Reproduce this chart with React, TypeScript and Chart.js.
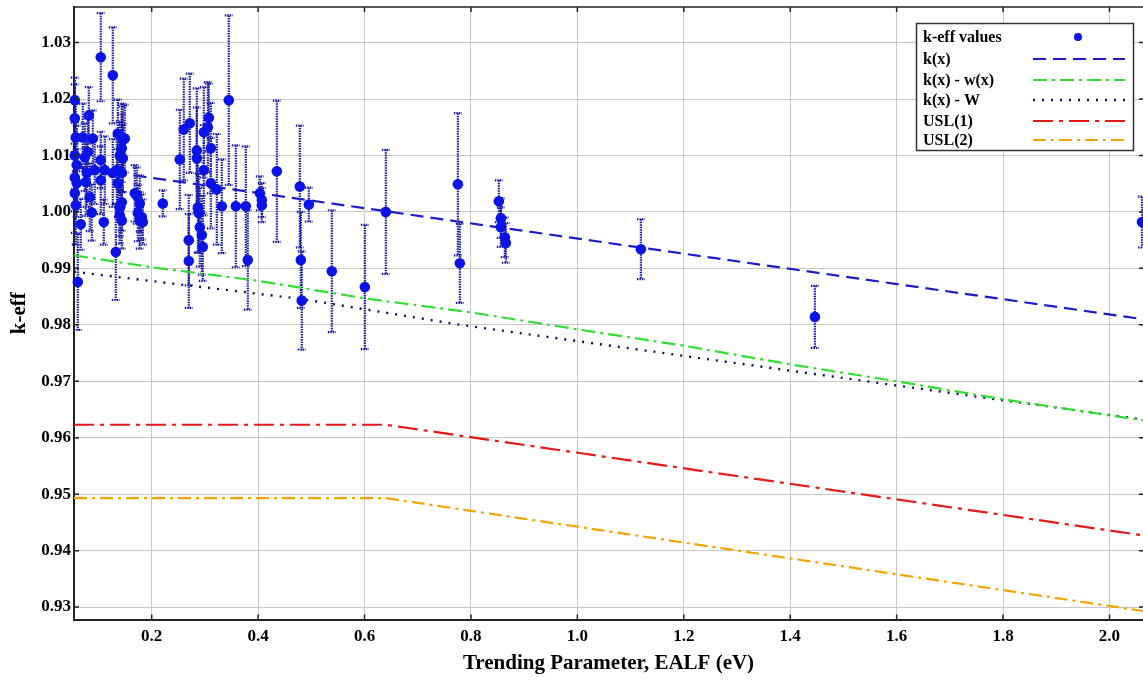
import React, { useEffect, useRef } from "react";
import { Chart, registerables } from "chart.js";

Chart.register(...registerables);

// ---- axis ranges & ticks ----
const X_MIN = 0.054;
const X_MAX = 2.063;
const Y_MIN = 0.9278;
const Y_MAX = 1.0363;
const xTickValues = [0.2, 0.4, 0.6, 0.8, 1.0, 1.2, 1.4, 1.6, 1.8, 2.0];
const yTickValues = [0.93, 0.94, 0.95, 0.96, 0.97, 0.98, 0.99, 1.0, 1.01, 1.02, 1.03];

// ---- k-eff values (EALF, k-eff, uncertainty) ----
const effX = [
  0.0555, 0.0555, 0.0573, 0.0555, 0.0592, 0.0555, 0.0592, 0.0555, 0.0573, 0.0611,
  0.0667, 0.0705, 0.0743, 0.078, 0.0818, 0.0836, 0.0874, 0.0799, 0.093, 0.0893,
  0.0761, 0.1043, 0.1043, 0.1043, 0.11, 0.1118, 0.1269, 0.1269, 0.1325,
  0.1363, 0.1457, 0.1438, 0.1494, 0.14, 0.1457, 0.1344, 0.1438, 0.1363, 0.14,
  0.14, 0.1438, 0.1438, 0.1438, 0.1682, 0.172, 0.1739, 0.1776, 0.1776, 0.1814,
  0.1833, 0.2209,
  0.2528, 0.2603, 0.2716, 0.2697, 0.2697, 0.2848, 0.2848, 0.2867, 0.2885, 0.2904,
  0.2942, 0.296, 0.2979, 0.2979, 0.3055, 0.3074, 0.3111, 0.3111, 0.3224, 0.3318,
  0.3449, 0.3581, 0.3769, 0.3806, 0.4032, 0.407, 0.407, 0.4352, 0.4784, 0.4803,
  0.4821, 0.4953, 0.5385, 0.6006, 0.64, 0.7754, 0.7791, 0.8524, 0.8562, 0.8562,
  0.8637, 0.8656, 1.1194, 1.4464, 2.0611,
];
const effY = [
  1.0198, 1.0166, 1.0132, 1.01, 1.0083, 1.0061, 1.0051, 1.0033, 1.0012, 0.9876,
  0.9978, 1.0132, 1.0097, 1.0069, 1.0171, 1.0026, 0.9999, 1.0106, 1.0074, 1.013,
  1.0053, 1.0274, 1.0092, 1.0056, 0.9982, 1.0074, 1.0242, 1.0069, 0.9929,
  1.0139, 1.0127, 1.0113, 1.013, 1.01, 1.0095, 1.0074, 1.0069, 1.0051, 1.0007,
  0.9994, 0.9985, 1.0017, 1.0132, 1.0033, 1.0029, 0.9998, 1.0015, 0.9985, 0.9991,
  0.9982, 1.0015,
  1.0093, 1.0146, 1.0157, 0.995, 0.9913, 1.0109, 1.0095, 1.0008, 0.9998, 0.9973,
  0.9959, 0.9938, 1.0074, 1.0141, 1.015, 1.0167, 1.0113, 1.0051, 1.004, 1.001,
  1.0198, 1.001, 1.001, 0.9915, 1.0033, 1.0021, 1.0012, 1.0072, 1.0045, 0.9915,
  0.9843, 1.0013, 0.9895, 0.9867, 1.0, 1.0049, 0.9909, 1.0019, 0.9989, 0.9973,
  0.9955, 0.9945, 0.9934, 0.9814, 0.9982,
];
const effErr = [
  0.004, 0.006, 0.006, 0.006, 0.007, 0.006, 0.006, 0.007, 0.007, 0.0085,
  0.0045, 0.006, 0.006, 0.006, 0.005, 0.006, 0.005, 0.006, 0.006, 0.005,
  0.006, 0.0078, 0.005, 0.006, 0.004, 0.006, 0.0085, 0.006, 0.0085,
  0.006, 0.006, 0.006, 0.006, 0.006, 0.006, 0.006, 0.006, 0.006, 0.005,
  0.005, 0.005, 0.005, 0.006, 0.005, 0.005, 0.005, 0.005, 0.005, 0.004,
  0.004, 0.0023,
  0.0088, 0.009, 0.0088, 0.008, 0.0083, 0.011, 0.009, 0.008, 0.007, 0.007,
  0.007, 0.006, 0.008, 0.008, 0.008, 0.006, 0.008, 0.008, 0.0098, 0.0083,
  0.015, 0.0108, 0.0106, 0.0088, 0.003, 0.003, 0.003, 0.0125, 0.0108, 0.0085,
  0.0087, 0.003, 0.0108, 0.011, 0.011, 0.0126, 0.007, 0.0037, 0.0035, 0.0035,
  0.0035, 0.0035, 0.0053, 0.0055, 0.0045,
];

// ---- trend lines ----
const kxX = [0.054, 2.063];
const kxY = [1.008, 0.981];
const kwxX = [0.054, 0.2, 0.4, 0.6, 0.8, 1.0, 1.2, 1.4, 1.6, 1.8, 2.063];
const kwxY = [0.9923, 0.9902, 0.9878, 0.9847, 0.9822, 0.9792, 0.9763, 0.973, 0.97, 0.9668, 0.9631];
const kWX = [0.054, 0.24, 0.48, 0.78, 2.063];
const kWY = [0.9894, 0.9873, 0.9846, 0.98, 0.9632];
const usl1X = [0.054, 0.64, 2.063];
const usl1Y = [0.9623, 0.9623, 0.9427];
const usl2X = [0.054, 0.64, 2.063];
const usl2Y = [0.9493, 0.9493, 0.9293];

const legendLabels = ["k-eff values", "k(x)", "k(x) - w(x)", "k(x) - W", "USL(1)", "USL(2)"];

const FONT = "'Liberation Serif', 'Times New Roman', serif";
const POINT_COLOR = "#0a14e6";
const ERR_COLOR = "#1616a6";

const toPts = (xs: number[], ys: number[]) => xs.map((x, i) => ({ x, y: ys[i] }));

const lineDefs = [
  { label: legendLabels[1], xs: kxX, ys: kxY, color: "#1c1cc8", dash: [13, 7], width: 2.2 },
  { label: legendLabels[2], xs: kwxX, ys: kwxY, color: "#33dd33", dash: [14, 5, 3, 5], width: 2.2 },
  { label: legendLabels[3], xs: kWX, ys: kWY, color: "#111155", dash: [2, 7], width: 2.4 },
  { label: legendLabels[4], xs: usl1X, ys: usl1Y, color: "#e61919", dash: [20, 6, 4, 6], width: 2.2 },
  { label: legendLabels[5], xs: usl2X, ys: usl2Y, color: "#f5a300", dash: [13, 5, 3, 5], width: 2.2 },
];

const errorBarPlugin = {
  id: "errorBars",
  beforeDatasetsDraw(chart: any) {
    const ctx = chart.ctx;
    const xs = chart.scales.x;
    const ys = chart.scales.y;
    ctx.save();
    ctx.strokeStyle = ERR_COLOR;
    ctx.lineWidth = 2.2;
    ctx.setLineDash([1.5, 1]);
    for (let i = 0; i < effX.length; i++) {
      const px = xs.getPixelForValue(effX[i]);
      const pt = ys.getPixelForValue(effY[i] + effErr[i]);
      const pb = ys.getPixelForValue(effY[i] - effErr[i]);
      ctx.beginPath();
      ctx.moveTo(px, pt);
      ctx.lineTo(px, pb);
      ctx.moveTo(px - 4, pt);
      ctx.lineTo(px + 4, pt);
      ctx.moveTo(px - 4, pb);
      ctx.lineTo(px + 4, pb);
      ctx.stroke();
    }
    ctx.restore();
  },
};

const framePlugin = {
  id: "frame",
  afterDraw(chart: any) {
    const ctx = chart.ctx;
    const { left, right, top, bottom } = chart.chartArea;
    const xs = chart.scales.x;
    const ys = chart.scales.y;
    ctx.save();
    ctx.strokeStyle = "#222";
    ctx.lineWidth = 1.5;
    ctx.beginPath();
    ctx.moveTo(left, top);
    ctx.lineTo(right, top);
    ctx.stroke();
    ctx.beginPath();
    xTickValues.forEach((v) => {
      const px = xs.getPixelForValue(v);
      ctx.moveTo(px, bottom);
      ctx.lineTo(px, bottom - 5);
      ctx.moveTo(px, top);
      ctx.lineTo(px, top + 5);
    });
    yTickValues.forEach((v) => {
      const py = ys.getPixelForValue(v);
      ctx.moveTo(left, py);
      ctx.lineTo(left + 5, py);
      ctx.moveTo(right, py);
      ctx.lineTo(right - 4, py);
    });
    ctx.stroke();

    // legend box
    const bx = 916, by = 23, bw = 217, bh = 127;
    ctx.fillStyle = "#fff";
    ctx.fillRect(bx, by, bw, bh);
    ctx.strokeStyle = "#333";
    ctx.lineWidth = 1.5;
    ctx.strokeRect(bx + 0.5, by + 0.5, bw, bh);
    const rowY = [37, 59, 80, 100, 121, 140];
    ctx.font = `bold 16px ${FONT}`;
    ctx.fillStyle = "#000";
    ctx.textBaseline = "middle";
    ctx.textAlign = "left";
    legendLabels.forEach((lab, i) => {
      ctx.fillText(lab, bx + 7, rowY[i] + 1);
    });
    // marker
    ctx.fillStyle = POINT_COLOR;
    ctx.beginPath();
    ctx.arc(1078, rowY[0], 4, 0, Math.PI * 2);
    ctx.fill();
    lineDefs.forEach((d, i) => {
      ctx.strokeStyle = d.color;
      ctx.lineWidth = d.width;
      ctx.setLineDash(d.dash);
      ctx.beginPath();
      ctx.moveTo(1033, rowY[i + 1]);
      ctx.lineTo(1125, rowY[i + 1]);
      ctx.stroke();
    });
    ctx.restore();
  },
};

export default function App() {
  const canvasRef = useRef<HTMLCanvasElement | null>(null);

  useEffect(() => {
    if (!canvasRef.current) return;
    const datasets: any[] = [
      {
        label: legendLabels[0],
        data: toPts(effX, effY),
        showLine: false,
        pointRadius: 5.3,
        pointBackgroundColor: POINT_COLOR,
        pointBorderColor: POINT_COLOR,
        pointBorderWidth: 0,
        clip: false,
        order: 0,
      },
      ...lineDefs.map((d, i) => ({
        label: d.label,
        data: toPts(d.xs, d.ys),
        showLine: true,
        borderColor: d.color,
        borderWidth: d.width,
        borderDash: d.dash,
        pointRadius: 0,
        fill: false,
        tension: 0,
        order: i + 1,
      })),
    ];

    const chart = new Chart(canvasRef.current, {
      type: "scatter",
      data: { datasets },
      options: {
        animation: false,
        responsive: false,
        devicePixelRatio: 1,
        layout: { autoPadding: false, padding: { top: 7, left: 0, right: 0, bottom: 0 } },
        plugins: { legend: { display: false }, tooltip: { enabled: false } },
        scales: {
          x: {
            type: "linear",
            min: X_MIN,
            max: X_MAX,
            afterBuildTicks: (scale: any) => {
              scale.ticks = xTickValues.map((v) => ({ value: v }));
            },
            afterFit: (scale: any) => {
              scale.height = 61.5;
              scale.paddingLeft = 0;
              scale.paddingRight = 0;
            },
            grid: { color: "#c8c8c8", lineWidth: 1, drawTicks: false },
            border: { color: "#222", width: 2 },
            ticks: {
              padding: 7,
              color: "#000",
              font: { family: FONT, size: 17, weight: "bold" },
              callback: (v: any) => Number(v).toFixed(1),
              maxRotation: 0,
            },
            title: {
              display: true,
              text: "Trending Parameter, EALF (eV)",
              color: "#000",
              font: { family: FONT, size: 21, weight: "bold" },
              padding: { top: 0, bottom: 5 },
            },
          },
          y: {
            type: "linear",
            min: Y_MIN,
            max: Y_MAX,
            afterBuildTicks: (scale: any) => {
              scale.ticks = yTickValues.map((v) => ({ value: v }));
            },
            afterFit: (scale: any) => {
              scale.width = 74;
              scale.paddingTop = 0;
              scale.paddingBottom = 0;
            },
            grid: { color: "#c8c8c8", lineWidth: 1, drawTicks: false },
            border: { color: "#222", width: 2 },
            ticks: {
              padding: 3,
              color: "#000",
              font: { family: FONT, size: 17, weight: "bold" },
              callback: (v: any) => Number(v).toFixed(2),
            },
            title: {
              display: true,
              text: "k-eff",
              color: "#000",
              font: { family: FONT, size: 21, weight: "bold" },
              padding: { top: 7, bottom: 0 },
            },
          },
        },
      },
      plugins: [errorBarPlugin, framePlugin],
    } as any);

    return () => chart.destroy();
  }, []);

  return (
    <div style={{ position: "absolute", left: 0, top: 0, width: 1143, height: 681, background: "#fff" }}>
      <canvas ref={canvasRef} width={1143} height={681} style={{ width: 1143, height: 681, display: "block" }} />
    </div>
  );
}
